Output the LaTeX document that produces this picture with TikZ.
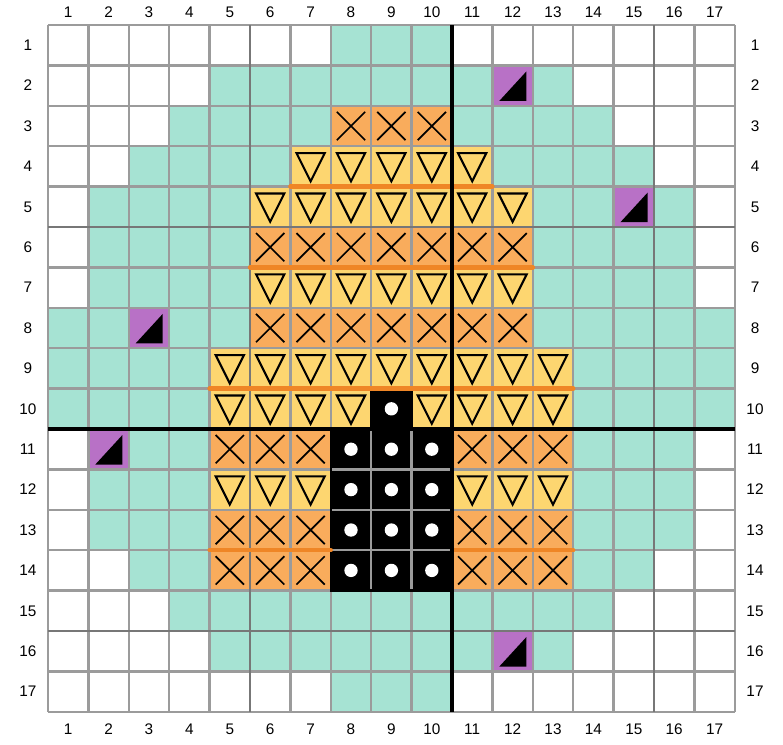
\documentclass[tikz,border=0pt]{standalone}
\usepackage{fontspec}
\setmainfont{Liberation Sans}
\definecolor{gridteal}{HTML}{A6E3D3}
\definecolor{gridorange}{HTML}{F9AC5C}
\definecolor{gridyellow}{HTML}{FDD670}
\definecolor{gridpurple}{HTML}{B871C6}
\definecolor{gridline}{HTML}{9B9B9B}
\definecolor{gridmajor}{HTML}{777777}
\definecolor{bandorange}{HTML}{EF8626}

\begin{document}
\begin{tikzpicture}[
    x=1cm, y=1cm,
    tealcell/.style={fill=gridteal},
    yellowcell/.style={fill=gridyellow},
    orangecell/.style={fill=gridorange},
    purplecell/.style={fill=gridpurple},
    thingrid/.style={draw=gridline, line width=1.7pt},
    majorline/.style={draw=gridmajor, line width=1.8pt},
    axisline/.style={draw=black, line width=2.2pt},
    band/.style={draw=bandorange, line width=3.1pt, line cap=round},
    cross/.style={draw=black, line width=1.2pt},
    wedge/.style={draw=black, line width=1.45pt, line join=miter},
    numlabel/.style={font=\fontsize{10.8}{12}\selectfont, inner sep=0pt}
]
\useasboundingbox[fill=white] (-1.188,0.619) rectangle (18.193,-17.797);

% Background cells
\foreach \r/\a/\b in {1/8/10, 2/5/13, 3/4/14, 4/3/15, 5/2/16, 6/2/16, 7/2/16, 8/1/17, 9/1/17,
                      10/1/17, 11/2/16, 12/2/16, 13/2/16, 14/3/15, 15/4/14, 16/5/13, 17/8/10}
  \fill[tealcell] (\a-1,-\r) rectangle (\b,1-\r);

% Triangle cells
\foreach \r/\a/\b in {4/7/11, 5/6/12, 7/6/12, 9/5/13, 10/5/8, 10/10/13, 12/5/7, 12/11/13}
  \fill[yellowcell] (\a-1,-\r) rectangle (\b,1-\r);

% Cross cells
\foreach \r/\a/\b in {3/8/10, 6/6/12, 8/6/12, 11/5/7, 11/11/13, 13/5/7, 13/11/13, 14/5/7, 14/11/13}
  \fill[orangecell] (\a-1,-\r) rectangle (\b,1-\r);

% Dot cells
\fill[black] (8,-9) -- (9,-9) -- (9,-10) -- (10,-10) -- (10,-14) -- (7,-14) -- (7,-10) -- (8,-10) -- cycle;

% Corner cells
\foreach \c/\r in {12/2, 15/5, 3/8, 2/11, 12/16}
  \fill[purplecell] (\c-1,-\r) rectangle ++(1,1);

% Grid
\foreach \i in {0,...,17} {
  \draw[thingrid] (\i,0) -- (\i,-17);
  \draw[thingrid] (0,-\i) -- (17,-\i);
}
\foreach \i in {5,15} {
  \draw[majorline] (\i,0) -- (\i,-17);
  \draw[majorline] (0,-\i) -- (17,-\i);
}
\draw[black, line width=1.7pt] (8,-9) -- (9,-9) -- (9,-10) -- (10,-10) -- (10,-14) -- (7,-14) -- (7,-10) -- (8,-10) -- cycle;

% Symbols
\foreach \r/\a/\b in {4/7/11, 5/6/12, 7/6/12, 9/5/13, 10/5/8, 10/10/13, 12/5/7, 12/11/13}
  \foreach \c in {\a,...,\b}
    \draw[wedge] (\c-0.85,0.83-\r) -- (\c-0.15,0.83-\r) -- (\c-0.5,0.13-\r) -- cycle;
\foreach \r/\a/\b in {3/8/10, 6/6/12, 8/6/12, 11/5/7, 11/11/13, 13/5/7, 13/11/13, 14/5/7, 14/11/13}
  \foreach \c in {\a,...,\b}
    \draw[cross] (\c-0.85,0.85-\r) -- (\c-0.15,0.15-\r) (\c-0.85,0.15-\r) -- (\c-0.15,0.85-\r);
\foreach \c/\r in {9/10, 8/11, 9/11, 10/11, 8/12, 9/12, 10/12, 8/13, 9/13, 10/13, 8/14, 9/14, 10/14}
  \fill[white] (\c-0.5,0.5-\r) circle (0.165);
\foreach \c/\r in {12/2, 15/5, 3/8, 2/11, 12/16}
  \fill[black] (\c-0.83,0.12-\r) -- (\c-0.16,0.12-\r) -- (\c-0.16,0.85-\r) -- cycle;

% Bands and centre lines
\draw[band] (6,-4) -- (11,-4);
\draw[band] (5,-6) -- (12,-6);
\draw[band] (4,-9) -- (13,-9);
\draw[band] (4,-13) -- (7,-13);
\draw[band] (10,-13) -- (13,-13);
\draw[axisline] (10,0) -- (10,-17);
\draw[axisline] (0,-10) -- (17,-10);

% Numbers
\foreach \i in {1,...,17} {
  \node[numlabel] (top\i) at (\i-0.5,0.31) {\i};
  \node[numlabel] (bottom\i) at (\i-0.5,-17.43) {\i};
  \node[numlabel] (left\i) at (-0.5,0.5-\i) {\i};
  \node[numlabel] (right\i) at (17.5,0.5-\i) {\i};
}

\end{tikzpicture}
\end{document}
